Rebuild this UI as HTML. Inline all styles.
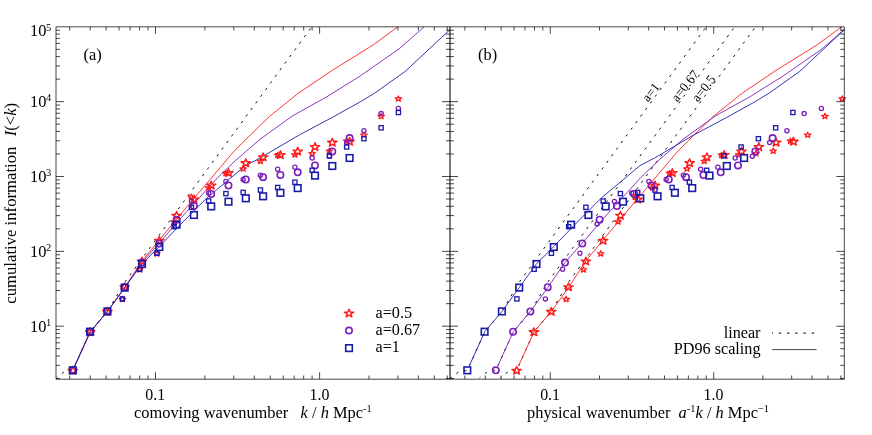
<!DOCTYPE html>
<html><head><meta charset="utf-8"><title>chart</title><style>html,body{margin:0;padding:0;background:#fff}svg{display:block}</style></head><body>
<svg width="872" height="435" viewBox="0 0 872 435" font-family="'Liberation Serif', serif" font-size="16.4" fill="#000">
<rect width="100%" height="100%" fill="#fff"/>
<defs><filter id="g" filterUnits="userSpaceOnUse" x="0" y="0" width="872" height="435"><feOffset dx="0" dy="0"/></filter><clipPath id="ca"><rect x="56.00" y="26.80" width="394.00" height="352.40"/></clipPath><clipPath id="cb"><rect x="450.00" y="26.80" width="394.30" height="352.40"/></clipPath></defs>
<g clip-path="url(#ca)">
<polyline points="56.50,377.80 63.30,372.50 72.80,370.30 90.30,331.70 107.50,311.40 125.60,281.00 311.70,26.80" fill="none" stroke="#111" stroke-width="1.0" stroke-dasharray="2.5 5.7" stroke-dashoffset="1.4"/>
<polyline points="74.70,366.10 90.30,331.70 107.50,311.40 125.00,287.20 141.90,261.00 159.30,240.00 179.90,215.10 211.30,178.00 233.30,152.00 250.30,135.00 269.30,116.60 297.90,93.50 332.30,70.30 360.00,53.10 373.60,44.70 397.80,26.80" fill="none" stroke="#ff1a1a" stroke-width="0.88"/>
<polyline points="74.70,366.10 90.30,331.70 107.50,311.40 125.00,287.20 141.90,262.50 159.30,243.00 179.90,219.10 217.30,178.00 236.00,160.00 260.00,139.30 292.60,115.80 327.00,96.70 360.00,76.10 399.30,48.70 424.20,26.80" fill="none" stroke="#7a1fb8" stroke-width="0.88"/>
<polyline points="74.70,366.10 90.30,331.70 107.50,311.40 125.00,287.20 141.90,264.00 159.30,246.50 181.90,223.00 206.80,198.00 227.50,180.70 245.20,165.80 260.00,158.00 299.20,135.00 332.30,117.40 360.00,102.00 374.60,93.20 405.20,71.40 449.70,29.90 452.90,26.80" fill="none" stroke="#1a1aa8" stroke-width="0.88"/>
</g><g>
<path d="M72.80 366.48L73.96 369.33L77.47 369.40L74.67 371.22L75.69 374.11L72.80 372.39L69.91 374.11L70.93 371.22L68.13 369.40L71.64 369.33Z" fill="none" stroke="#ff1a1a" stroke-width="1.45" stroke-linejoin="round"/>
<path d="M90.10 327.88L91.26 330.73L94.77 330.80L91.97 332.62L92.99 335.51L90.10 333.79L87.21 335.51L88.23 332.62L85.43 330.80L88.94 330.73Z" fill="none" stroke="#ff1a1a" stroke-width="1.45" stroke-linejoin="round"/>
<path d="M107.40 307.58L108.56 310.43L112.07 310.50L109.27 312.32L110.29 315.21L107.40 313.49L104.51 315.21L105.53 312.32L102.73 310.50L106.24 310.43Z" fill="none" stroke="#ff1a1a" stroke-width="1.45" stroke-linejoin="round"/>
<path d="M124.70 282.98L125.86 285.83L129.37 285.90L126.57 287.72L127.59 290.61L124.70 288.89L121.81 290.61L122.83 287.72L120.03 285.90L123.54 285.83Z" fill="none" stroke="#ff1a1a" stroke-width="1.45" stroke-linejoin="round"/>
<path d="M142.00 257.18L143.16 260.03L146.67 260.10L143.87 261.92L144.89 264.81L142.00 263.09L139.11 264.81L140.13 261.92L137.33 260.10L140.84 260.03Z" fill="none" stroke="#ff1a1a" stroke-width="1.45" stroke-linejoin="round"/>
<path d="M159.30 236.48L160.46 239.33L163.97 239.40L161.17 241.22L162.19 244.11L159.30 242.39L156.41 244.11L157.43 241.22L154.63 239.40L158.14 239.33Z" fill="none" stroke="#ff1a1a" stroke-width="1.45" stroke-linejoin="round"/>
<path d="M176.60 211.48L177.76 214.33L181.27 214.40L178.47 216.22L179.49 219.11L176.60 217.39L173.71 219.11L174.73 216.22L171.93 214.40L175.44 214.33Z" fill="none" stroke="#ff1a1a" stroke-width="1.45" stroke-linejoin="round"/>
<path d="M193.90 195.18L195.06 198.03L198.57 198.10L195.77 199.92L196.79 202.81L193.90 201.09L191.01 202.81L192.03 199.92L189.23 198.10L192.74 198.03Z" fill="none" stroke="#ff1a1a" stroke-width="1.45" stroke-linejoin="round"/>
<path d="M211.20 181.18L212.36 184.03L215.87 184.10L213.07 185.92L214.09 188.81L211.20 187.09L208.31 188.81L209.33 185.92L206.53 184.10L210.04 184.03Z" fill="none" stroke="#ff1a1a" stroke-width="1.45" stroke-linejoin="round"/>
<path d="M228.50 168.78L229.66 171.63L233.17 171.70L230.37 173.52L231.39 176.41L228.50 174.69L225.61 176.41L226.63 173.52L223.83 171.70L227.34 171.63Z" fill="none" stroke="#ff1a1a" stroke-width="1.45" stroke-linejoin="round"/>
<path d="M245.80 158.88L246.96 161.73L250.47 161.80L247.67 163.62L248.69 166.51L245.80 164.79L242.91 166.51L243.93 163.62L241.13 161.80L244.64 161.73Z" fill="none" stroke="#ff1a1a" stroke-width="1.45" stroke-linejoin="round"/>
<path d="M263.10 152.98L264.26 155.83L267.77 155.90L264.97 157.72L265.99 160.61L263.10 158.89L260.21 160.61L261.23 157.72L258.43 155.90L261.94 155.83Z" fill="none" stroke="#ff1a1a" stroke-width="1.45" stroke-linejoin="round"/>
<path d="M280.40 150.78L281.56 153.63L285.07 153.70L282.27 155.52L283.29 158.41L280.40 156.69L277.51 158.41L278.53 155.52L275.73 153.70L279.24 153.63Z" fill="none" stroke="#ff1a1a" stroke-width="1.45" stroke-linejoin="round"/>
<path d="M297.70 147.28L298.86 150.13L302.37 150.20L299.57 152.02L300.59 154.91L297.70 153.19L294.81 154.91L295.83 152.02L293.03 150.20L296.54 150.13Z" fill="none" stroke="#ff1a1a" stroke-width="1.45" stroke-linejoin="round"/>
<path d="M315.00 142.78L316.16 145.63L319.67 145.70L316.87 147.52L317.89 150.41L315.00 148.69L312.11 150.41L313.13 147.52L310.33 145.70L313.84 145.63Z" fill="none" stroke="#ff1a1a" stroke-width="1.45" stroke-linejoin="round"/>
<path d="M332.30 138.38L333.46 141.23L336.97 141.30L334.17 143.12L335.19 146.01L332.30 144.29L329.41 146.01L330.43 143.12L327.63 141.30L331.14 141.23Z" fill="none" stroke="#ff1a1a" stroke-width="1.45" stroke-linejoin="round"/>
<path d="M349.60 137.38L350.76 140.23L354.27 140.30L351.47 142.12L352.49 145.01L349.60 143.29L346.71 145.01L347.73 142.12L344.93 140.30L348.44 140.23Z" fill="none" stroke="#ff1a1a" stroke-width="1.45" stroke-linejoin="round"/>
<path d="M122.40 296.34L123.21 298.34L125.68 298.39L123.71 299.67L124.43 301.69L122.40 300.48L120.37 301.69L121.09 299.67L119.12 298.39L121.59 298.34Z" fill="none" stroke="#ff1a1a" stroke-width="1.25" stroke-linejoin="round"/>
<path d="M139.65 266.74L140.46 268.74L142.93 268.79L140.96 270.07L141.68 272.09L139.65 270.88L137.62 272.09L138.34 270.07L136.37 268.79L138.84 268.74Z" fill="none" stroke="#ff1a1a" stroke-width="1.25" stroke-linejoin="round"/>
<path d="M156.90 250.74L157.71 252.74L160.18 252.79L158.21 254.07L158.93 256.09L156.90 254.88L154.87 256.09L155.59 254.07L153.62 252.79L156.09 252.74Z" fill="none" stroke="#ff1a1a" stroke-width="1.25" stroke-linejoin="round"/>
<path d="M174.15 218.84L174.96 220.84L177.43 220.89L175.46 222.17L176.18 224.19L174.15 222.98L172.12 224.19L172.84 222.17L170.87 220.89L173.34 220.84Z" fill="none" stroke="#ff1a1a" stroke-width="1.25" stroke-linejoin="round"/>
<path d="M191.40 194.04L192.21 196.04L194.68 196.09L192.71 197.37L193.43 199.39L191.40 198.18L189.37 199.39L190.09 197.37L188.12 196.09L190.59 196.04Z" fill="none" stroke="#ff1a1a" stroke-width="1.25" stroke-linejoin="round"/>
<path d="M208.65 184.94L209.46 186.94L211.93 186.99L209.96 188.27L210.68 190.29L208.65 189.08L206.62 190.29L207.34 188.27L205.37 186.99L207.84 186.94Z" fill="none" stroke="#ff1a1a" stroke-width="1.25" stroke-linejoin="round"/>
<path d="M225.90 170.44L226.71 172.44L229.18 172.49L227.21 173.77L227.93 175.79L225.90 174.58L223.87 175.79L224.59 173.77L222.62 172.49L225.09 172.44Z" fill="none" stroke="#ff1a1a" stroke-width="1.25" stroke-linejoin="round"/>
<path d="M243.15 165.94L243.96 167.94L246.43 167.99L244.46 169.27L245.18 171.29L243.15 170.08L241.12 171.29L241.84 169.27L239.87 167.99L242.34 167.94Z" fill="none" stroke="#ff1a1a" stroke-width="1.25" stroke-linejoin="round"/>
<path d="M260.40 158.24L261.21 160.24L263.68 160.29L261.71 161.57L262.43 163.59L260.40 162.38L258.37 163.59L259.09 161.57L257.12 160.29L259.59 160.24Z" fill="none" stroke="#ff1a1a" stroke-width="1.25" stroke-linejoin="round"/>
<path d="M277.65 152.24L278.46 154.24L280.93 154.29L278.96 155.57L279.68 157.59L277.65 156.38L275.62 157.59L276.34 155.57L274.37 154.29L276.84 154.24Z" fill="none" stroke="#ff1a1a" stroke-width="1.25" stroke-linejoin="round"/>
<path d="M294.90 151.94L295.71 153.94L298.18 153.99L296.21 155.27L296.93 157.29L294.90 156.08L292.87 157.29L293.59 155.27L291.62 153.99L294.09 153.94Z" fill="none" stroke="#ff1a1a" stroke-width="1.25" stroke-linejoin="round"/>
<path d="M312.15 150.54L312.96 152.54L315.43 152.59L313.46 153.87L314.18 155.89L312.15 154.68L310.12 155.89L310.84 153.87L308.87 152.59L311.34 152.54Z" fill="none" stroke="#ff1a1a" stroke-width="1.25" stroke-linejoin="round"/>
<path d="M329.40 148.04L330.21 150.04L332.68 150.09L330.71 151.37L331.43 153.39L329.40 152.18L327.37 153.39L328.09 151.37L326.12 150.09L328.59 150.04Z" fill="none" stroke="#ff1a1a" stroke-width="1.25" stroke-linejoin="round"/>
<path d="M346.65 138.04L347.46 140.04L349.93 140.09L347.96 141.37L348.68 143.39L346.65 142.18L344.62 143.39L345.34 141.37L343.37 140.09L345.84 140.04Z" fill="none" stroke="#ff1a1a" stroke-width="1.25" stroke-linejoin="round"/>
<path d="M363.90 132.14L364.71 134.14L367.18 134.19L365.21 135.47L365.93 137.49L363.90 136.28L361.87 137.49L362.59 135.47L360.62 134.19L363.09 134.14Z" fill="none" stroke="#ff1a1a" stroke-width="1.25" stroke-linejoin="round"/>
<path d="M381.15 113.34L381.96 115.34L384.43 115.39L382.46 116.67L383.18 118.69L381.15 117.48L379.12 118.69L379.84 116.67L377.87 115.39L380.34 115.34Z" fill="none" stroke="#ff1a1a" stroke-width="1.25" stroke-linejoin="round"/>
<path d="M398.40 95.94L399.21 97.94L401.68 97.99L399.71 99.27L400.43 101.29L398.40 100.08L396.37 101.29L397.09 99.27L395.12 97.99L397.59 97.94Z" fill="none" stroke="#ff1a1a" stroke-width="1.25" stroke-linejoin="round"/>
<circle cx="72.80" cy="370.30" r="3.20" fill="none" stroke="#7a1fb8" stroke-width="1.60"/>
<circle cx="90.10" cy="331.70" r="3.20" fill="none" stroke="#7a1fb8" stroke-width="1.60"/>
<circle cx="107.40" cy="311.40" r="3.20" fill="none" stroke="#7a1fb8" stroke-width="1.60"/>
<circle cx="124.70" cy="287.20" r="3.20" fill="none" stroke="#7a1fb8" stroke-width="1.60"/>
<circle cx="142.00" cy="262.50" r="3.20" fill="none" stroke="#7a1fb8" stroke-width="1.60"/>
<circle cx="159.30" cy="243.50" r="3.20" fill="none" stroke="#7a1fb8" stroke-width="1.60"/>
<circle cx="176.60" cy="219.70" r="3.20" fill="none" stroke="#7a1fb8" stroke-width="1.60"/>
<circle cx="193.90" cy="206.00" r="3.20" fill="none" stroke="#7a1fb8" stroke-width="1.60"/>
<circle cx="211.20" cy="194.00" r="3.20" fill="none" stroke="#7a1fb8" stroke-width="1.60"/>
<circle cx="228.50" cy="185.50" r="3.20" fill="none" stroke="#7a1fb8" stroke-width="1.60"/>
<circle cx="245.80" cy="179.50" r="3.20" fill="none" stroke="#7a1fb8" stroke-width="1.60"/>
<circle cx="263.10" cy="177.20" r="3.20" fill="none" stroke="#7a1fb8" stroke-width="1.60"/>
<circle cx="280.40" cy="175.00" r="3.20" fill="none" stroke="#7a1fb8" stroke-width="1.60"/>
<circle cx="297.70" cy="172.30" r="3.20" fill="none" stroke="#7a1fb8" stroke-width="1.60"/>
<circle cx="315.00" cy="165.40" r="3.20" fill="none" stroke="#7a1fb8" stroke-width="1.60"/>
<circle cx="332.30" cy="151.50" r="3.20" fill="none" stroke="#7a1fb8" stroke-width="1.60"/>
<circle cx="349.60" cy="138.10" r="3.20" fill="none" stroke="#7a1fb8" stroke-width="1.60"/>
<circle cx="122.40" cy="298.90" r="2.10" fill="none" stroke="#7a1fb8" stroke-width="1.30"/>
<circle cx="139.65" cy="269.30" r="2.10" fill="none" stroke="#7a1fb8" stroke-width="1.30"/>
<circle cx="156.90" cy="253.30" r="2.10" fill="none" stroke="#7a1fb8" stroke-width="1.30"/>
<circle cx="174.15" cy="223.90" r="2.10" fill="none" stroke="#7a1fb8" stroke-width="1.30"/>
<circle cx="191.40" cy="201.50" r="2.10" fill="none" stroke="#7a1fb8" stroke-width="1.30"/>
<circle cx="208.65" cy="193.00" r="2.10" fill="none" stroke="#7a1fb8" stroke-width="1.30"/>
<circle cx="225.90" cy="181.50" r="2.10" fill="none" stroke="#7a1fb8" stroke-width="1.30"/>
<circle cx="243.15" cy="179.50" r="2.10" fill="none" stroke="#7a1fb8" stroke-width="1.30"/>
<circle cx="260.40" cy="175.20" r="2.10" fill="none" stroke="#7a1fb8" stroke-width="1.30"/>
<circle cx="277.65" cy="169.30" r="2.10" fill="none" stroke="#7a1fb8" stroke-width="1.30"/>
<circle cx="294.90" cy="167.30" r="2.10" fill="none" stroke="#7a1fb8" stroke-width="1.30"/>
<circle cx="312.15" cy="158.00" r="2.10" fill="none" stroke="#7a1fb8" stroke-width="1.30"/>
<circle cx="329.40" cy="156.20" r="2.10" fill="none" stroke="#7a1fb8" stroke-width="1.30"/>
<circle cx="346.65" cy="142.60" r="2.10" fill="none" stroke="#7a1fb8" stroke-width="1.30"/>
<circle cx="363.90" cy="130.80" r="2.10" fill="none" stroke="#7a1fb8" stroke-width="1.30"/>
<circle cx="381.15" cy="113.60" r="2.10" fill="none" stroke="#7a1fb8" stroke-width="1.30"/>
<circle cx="398.40" cy="108.50" r="2.10" fill="none" stroke="#7a1fb8" stroke-width="1.30"/>
<rect x="69.50" y="367.00" width="6.60" height="6.60" fill="none" stroke="#1a1aa8" stroke-width="1.60"/>
<rect x="86.80" y="328.40" width="6.60" height="6.60" fill="none" stroke="#1a1aa8" stroke-width="1.60"/>
<rect x="104.10" y="308.10" width="6.60" height="6.60" fill="none" stroke="#1a1aa8" stroke-width="1.60"/>
<rect x="121.40" y="284.30" width="6.60" height="6.60" fill="none" stroke="#1a1aa8" stroke-width="1.60"/>
<rect x="138.70" y="260.70" width="6.60" height="6.60" fill="none" stroke="#1a1aa8" stroke-width="1.60"/>
<rect x="156.00" y="243.70" width="6.60" height="6.60" fill="none" stroke="#1a1aa8" stroke-width="1.60"/>
<rect x="173.30" y="221.40" width="6.60" height="6.60" fill="none" stroke="#1a1aa8" stroke-width="1.60"/>
<rect x="190.60" y="211.70" width="6.60" height="6.60" fill="none" stroke="#1a1aa8" stroke-width="1.60"/>
<rect x="207.90" y="203.10" width="6.60" height="6.60" fill="none" stroke="#1a1aa8" stroke-width="1.60"/>
<rect x="225.20" y="198.40" width="6.60" height="6.60" fill="none" stroke="#1a1aa8" stroke-width="1.60"/>
<rect x="242.50" y="195.00" width="6.60" height="6.60" fill="none" stroke="#1a1aa8" stroke-width="1.60"/>
<rect x="259.80" y="193.00" width="6.60" height="6.60" fill="none" stroke="#1a1aa8" stroke-width="1.60"/>
<rect x="277.10" y="189.50" width="6.60" height="6.60" fill="none" stroke="#1a1aa8" stroke-width="1.60"/>
<rect x="294.40" y="184.80" width="6.60" height="6.60" fill="none" stroke="#1a1aa8" stroke-width="1.60"/>
<rect x="311.70" y="172.30" width="6.60" height="6.60" fill="none" stroke="#1a1aa8" stroke-width="1.60"/>
<rect x="329.00" y="162.70" width="6.60" height="6.60" fill="none" stroke="#1a1aa8" stroke-width="1.60"/>
<rect x="346.30" y="154.70" width="6.60" height="6.60" fill="none" stroke="#1a1aa8" stroke-width="1.60"/>
<rect x="120.30" y="296.80" width="4.20" height="4.20" fill="none" stroke="#1a1aa8" stroke-width="1.30"/>
<rect x="137.55" y="267.20" width="4.20" height="4.20" fill="none" stroke="#1a1aa8" stroke-width="1.30"/>
<rect x="154.80" y="251.20" width="4.20" height="4.20" fill="none" stroke="#1a1aa8" stroke-width="1.30"/>
<rect x="172.05" y="224.60" width="4.20" height="4.20" fill="none" stroke="#1a1aa8" stroke-width="1.30"/>
<rect x="189.30" y="205.20" width="4.20" height="4.20" fill="none" stroke="#1a1aa8" stroke-width="1.30"/>
<rect x="206.55" y="198.90" width="4.20" height="4.20" fill="none" stroke="#1a1aa8" stroke-width="1.30"/>
<rect x="223.80" y="191.50" width="4.20" height="4.20" fill="none" stroke="#1a1aa8" stroke-width="1.30"/>
<rect x="241.05" y="190.30" width="4.20" height="4.20" fill="none" stroke="#1a1aa8" stroke-width="1.30"/>
<rect x="258.30" y="187.90" width="4.20" height="4.20" fill="none" stroke="#1a1aa8" stroke-width="1.30"/>
<rect x="275.55" y="185.40" width="4.20" height="4.20" fill="none" stroke="#1a1aa8" stroke-width="1.30"/>
<rect x="292.80" y="180.10" width="4.20" height="4.20" fill="none" stroke="#1a1aa8" stroke-width="1.30"/>
<rect x="310.05" y="168.20" width="4.20" height="4.20" fill="none" stroke="#1a1aa8" stroke-width="1.30"/>
<rect x="327.30" y="153.80" width="4.20" height="4.20" fill="none" stroke="#1a1aa8" stroke-width="1.30"/>
<rect x="344.55" y="144.90" width="4.20" height="4.20" fill="none" stroke="#1a1aa8" stroke-width="1.30"/>
<rect x="361.80" y="136.60" width="4.20" height="4.20" fill="none" stroke="#1a1aa8" stroke-width="1.30"/>
<rect x="379.05" y="125.70" width="4.20" height="4.20" fill="none" stroke="#1a1aa8" stroke-width="1.30"/>
<rect x="396.30" y="110.40" width="4.20" height="4.20" fill="none" stroke="#1a1aa8" stroke-width="1.30"/>
</g>
<g clip-path="url(#cb)">
<polyline points="451.00,377.80 457.80,372.50 467.30,370.30 484.80,331.70 502.00,311.40 520.10,281.00 706.20,26.80" fill="none" stroke="#111" stroke-width="1.0" stroke-dasharray="2.5 5.7" stroke-dashoffset="1.4"/>
<polyline points="479.50,377.80 486.30,372.50 495.80,370.30 513.30,331.70 530.50,311.40 548.60,281.00 734.70,26.80" fill="none" stroke="#111" stroke-width="1.0" stroke-dasharray="2.5 5.7" stroke-dashoffset="1.4"/>
<polyline points="500.30,377.80 507.10,372.50 516.60,370.30 534.10,331.70 551.30,311.40 569.40,281.00 755.50,26.80" fill="none" stroke="#111" stroke-width="1.0" stroke-dasharray="2.5 5.7" stroke-dashoffset="1.4"/>
<polyline points="518.50,366.10 534.10,331.70 551.30,311.40 568.80,287.20 585.70,261.00 603.10,240.00 623.70,215.10 655.10,178.00 677.10,152.00 694.10,135.00 713.10,116.60 741.70,93.50 776.10,70.30 803.80,53.10 817.40,44.70 841.60,26.80" fill="none" stroke="#ff1a1a" stroke-width="0.88"/>
<polyline points="497.70,366.10 513.30,331.70 530.50,311.40 548.00,287.20 564.90,262.50 582.30,243.00 602.90,219.10 640.30,178.00 659.00,160.00 683.00,139.30 715.60,115.80 750.00,96.70 783.00,76.10 822.30,48.70 847.20,26.80" fill="none" stroke="#7a1fb8" stroke-width="0.88"/>
<polyline points="469.20,366.10 484.80,331.70 502.00,311.40 519.50,287.20 536.40,264.00 553.80,246.50 576.40,223.00 601.30,198.00 622.00,180.70 639.70,165.80 654.50,158.00 693.70,135.00 726.80,117.40 754.50,102.00 769.10,93.20 799.70,71.40 844.20,29.90 847.40,26.80" fill="none" stroke="#1a1aa8" stroke-width="0.88"/>
</g><g>
<path d="M516.60 366.48L517.76 369.33L521.27 369.40L518.47 371.22L519.49 374.11L516.60 372.39L513.71 374.11L514.73 371.22L511.93 369.40L515.44 369.33Z" fill="none" stroke="#ff1a1a" stroke-width="1.45" stroke-linejoin="round"/>
<path d="M533.90 327.88L535.06 330.73L538.57 330.80L535.77 332.62L536.79 335.51L533.90 333.79L531.01 335.51L532.03 332.62L529.23 330.80L532.74 330.73Z" fill="none" stroke="#ff1a1a" stroke-width="1.45" stroke-linejoin="round"/>
<path d="M551.20 307.58L552.36 310.43L555.87 310.50L553.07 312.32L554.09 315.21L551.20 313.49L548.31 315.21L549.33 312.32L546.53 310.50L550.04 310.43Z" fill="none" stroke="#ff1a1a" stroke-width="1.45" stroke-linejoin="round"/>
<path d="M568.50 282.98L569.66 285.83L573.17 285.90L570.37 287.72L571.39 290.61L568.50 288.89L565.61 290.61L566.63 287.72L563.83 285.90L567.34 285.83Z" fill="none" stroke="#ff1a1a" stroke-width="1.45" stroke-linejoin="round"/>
<path d="M585.80 257.18L586.96 260.03L590.47 260.10L587.67 261.92L588.69 264.81L585.80 263.09L582.91 264.81L583.93 261.92L581.13 260.10L584.64 260.03Z" fill="none" stroke="#ff1a1a" stroke-width="1.45" stroke-linejoin="round"/>
<path d="M603.10 236.48L604.26 239.33L607.77 239.40L604.97 241.22L605.99 244.11L603.10 242.39L600.21 244.11L601.23 241.22L598.43 239.40L601.94 239.33Z" fill="none" stroke="#ff1a1a" stroke-width="1.45" stroke-linejoin="round"/>
<path d="M620.40 211.48L621.56 214.33L625.07 214.40L622.27 216.22L623.29 219.11L620.40 217.39L617.51 219.11L618.53 216.22L615.73 214.40L619.24 214.33Z" fill="none" stroke="#ff1a1a" stroke-width="1.45" stroke-linejoin="round"/>
<path d="M637.70 195.18L638.86 198.03L642.37 198.10L639.57 199.92L640.59 202.81L637.70 201.09L634.81 202.81L635.83 199.92L633.03 198.10L636.54 198.03Z" fill="none" stroke="#ff1a1a" stroke-width="1.45" stroke-linejoin="round"/>
<path d="M655.00 181.18L656.16 184.03L659.67 184.10L656.87 185.92L657.89 188.81L655.00 187.09L652.11 188.81L653.13 185.92L650.33 184.10L653.84 184.03Z" fill="none" stroke="#ff1a1a" stroke-width="1.45" stroke-linejoin="round"/>
<path d="M672.30 168.78L673.46 171.63L676.97 171.70L674.17 173.52L675.19 176.41L672.30 174.69L669.41 176.41L670.43 173.52L667.63 171.70L671.14 171.63Z" fill="none" stroke="#ff1a1a" stroke-width="1.45" stroke-linejoin="round"/>
<path d="M689.60 158.88L690.76 161.73L694.27 161.80L691.47 163.62L692.49 166.51L689.60 164.79L686.71 166.51L687.73 163.62L684.93 161.80L688.44 161.73Z" fill="none" stroke="#ff1a1a" stroke-width="1.45" stroke-linejoin="round"/>
<path d="M706.90 152.98L708.06 155.83L711.57 155.90L708.77 157.72L709.79 160.61L706.90 158.89L704.01 160.61L705.03 157.72L702.23 155.90L705.74 155.83Z" fill="none" stroke="#ff1a1a" stroke-width="1.45" stroke-linejoin="round"/>
<path d="M724.20 150.78L725.36 153.63L728.87 153.70L726.07 155.52L727.09 158.41L724.20 156.69L721.31 158.41L722.33 155.52L719.53 153.70L723.04 153.63Z" fill="none" stroke="#ff1a1a" stroke-width="1.45" stroke-linejoin="round"/>
<path d="M741.50 147.28L742.66 150.13L746.17 150.20L743.37 152.02L744.39 154.91L741.50 153.19L738.61 154.91L739.63 152.02L736.83 150.20L740.34 150.13Z" fill="none" stroke="#ff1a1a" stroke-width="1.45" stroke-linejoin="round"/>
<path d="M758.80 142.78L759.96 145.63L763.47 145.70L760.67 147.52L761.69 150.41L758.80 148.69L755.91 150.41L756.93 147.52L754.13 145.70L757.64 145.63Z" fill="none" stroke="#ff1a1a" stroke-width="1.45" stroke-linejoin="round"/>
<path d="M776.10 138.38L777.26 141.23L780.77 141.30L777.97 143.12L778.99 146.01L776.10 144.29L773.21 146.01L774.23 143.12L771.43 141.30L774.94 141.23Z" fill="none" stroke="#ff1a1a" stroke-width="1.45" stroke-linejoin="round"/>
<path d="M793.40 137.38L794.56 140.23L798.07 140.30L795.27 142.12L796.29 145.01L793.40 143.29L790.51 145.01L791.53 142.12L788.73 140.30L792.24 140.23Z" fill="none" stroke="#ff1a1a" stroke-width="1.45" stroke-linejoin="round"/>
<path d="M566.20 296.34L567.01 298.34L569.48 298.39L567.51 299.67L568.23 301.69L566.20 300.48L564.17 301.69L564.89 299.67L562.92 298.39L565.39 298.34Z" fill="none" stroke="#ff1a1a" stroke-width="1.25" stroke-linejoin="round"/>
<path d="M583.45 266.74L584.26 268.74L586.73 268.79L584.76 270.07L585.48 272.09L583.45 270.88L581.42 272.09L582.14 270.07L580.17 268.79L582.64 268.74Z" fill="none" stroke="#ff1a1a" stroke-width="1.25" stroke-linejoin="round"/>
<path d="M600.70 250.74L601.51 252.74L603.98 252.79L602.01 254.07L602.73 256.09L600.70 254.88L598.67 256.09L599.39 254.07L597.42 252.79L599.89 252.74Z" fill="none" stroke="#ff1a1a" stroke-width="1.25" stroke-linejoin="round"/>
<path d="M617.95 218.84L618.76 220.84L621.23 220.89L619.26 222.17L619.98 224.19L617.95 222.98L615.92 224.19L616.64 222.17L614.67 220.89L617.14 220.84Z" fill="none" stroke="#ff1a1a" stroke-width="1.25" stroke-linejoin="round"/>
<path d="M635.20 194.04L636.01 196.04L638.48 196.09L636.51 197.37L637.23 199.39L635.20 198.18L633.17 199.39L633.89 197.37L631.92 196.09L634.39 196.04Z" fill="none" stroke="#ff1a1a" stroke-width="1.25" stroke-linejoin="round"/>
<path d="M652.45 184.94L653.26 186.94L655.73 186.99L653.76 188.27L654.48 190.29L652.45 189.08L650.42 190.29L651.14 188.27L649.17 186.99L651.64 186.94Z" fill="none" stroke="#ff1a1a" stroke-width="1.25" stroke-linejoin="round"/>
<path d="M669.70 170.44L670.51 172.44L672.98 172.49L671.01 173.77L671.73 175.79L669.70 174.58L667.67 175.79L668.39 173.77L666.42 172.49L668.89 172.44Z" fill="none" stroke="#ff1a1a" stroke-width="1.25" stroke-linejoin="round"/>
<path d="M686.95 165.94L687.76 167.94L690.23 167.99L688.26 169.27L688.98 171.29L686.95 170.08L684.92 171.29L685.64 169.27L683.67 167.99L686.14 167.94Z" fill="none" stroke="#ff1a1a" stroke-width="1.25" stroke-linejoin="round"/>
<path d="M704.20 158.24L705.01 160.24L707.48 160.29L705.51 161.57L706.23 163.59L704.20 162.38L702.17 163.59L702.89 161.57L700.92 160.29L703.39 160.24Z" fill="none" stroke="#ff1a1a" stroke-width="1.25" stroke-linejoin="round"/>
<path d="M721.45 152.24L722.26 154.24L724.73 154.29L722.76 155.57L723.48 157.59L721.45 156.38L719.42 157.59L720.14 155.57L718.17 154.29L720.64 154.24Z" fill="none" stroke="#ff1a1a" stroke-width="1.25" stroke-linejoin="round"/>
<path d="M738.70 151.94L739.51 153.94L741.98 153.99L740.01 155.27L740.73 157.29L738.70 156.08L736.67 157.29L737.39 155.27L735.42 153.99L737.89 153.94Z" fill="none" stroke="#ff1a1a" stroke-width="1.25" stroke-linejoin="round"/>
<path d="M755.95 150.54L756.76 152.54L759.23 152.59L757.26 153.87L757.98 155.89L755.95 154.68L753.92 155.89L754.64 153.87L752.67 152.59L755.14 152.54Z" fill="none" stroke="#ff1a1a" stroke-width="1.25" stroke-linejoin="round"/>
<path d="M773.20 148.04L774.01 150.04L776.48 150.09L774.51 151.37L775.23 153.39L773.20 152.18L771.17 153.39L771.89 151.37L769.92 150.09L772.39 150.04Z" fill="none" stroke="#ff1a1a" stroke-width="1.25" stroke-linejoin="round"/>
<path d="M790.45 138.04L791.26 140.04L793.73 140.09L791.76 141.37L792.48 143.39L790.45 142.18L788.42 143.39L789.14 141.37L787.17 140.09L789.64 140.04Z" fill="none" stroke="#ff1a1a" stroke-width="1.25" stroke-linejoin="round"/>
<path d="M807.70 132.14L808.51 134.14L810.98 134.19L809.01 135.47L809.73 137.49L807.70 136.28L805.67 137.49L806.39 135.47L804.42 134.19L806.89 134.14Z" fill="none" stroke="#ff1a1a" stroke-width="1.25" stroke-linejoin="round"/>
<path d="M824.95 113.34L825.76 115.34L828.23 115.39L826.26 116.67L826.98 118.69L824.95 117.48L822.92 118.69L823.64 116.67L821.67 115.39L824.14 115.34Z" fill="none" stroke="#ff1a1a" stroke-width="1.25" stroke-linejoin="round"/>
<path d="M842.20 95.94L843.01 97.94L845.48 97.99L843.51 99.27L844.23 101.29L842.20 100.08L840.17 101.29L840.89 99.27L838.92 97.99L841.39 97.94Z" fill="none" stroke="#ff1a1a" stroke-width="1.25" stroke-linejoin="round"/>
<circle cx="495.80" cy="370.30" r="3.20" fill="none" stroke="#7a1fb8" stroke-width="1.60"/>
<circle cx="513.10" cy="331.70" r="3.20" fill="none" stroke="#7a1fb8" stroke-width="1.60"/>
<circle cx="530.40" cy="311.40" r="3.20" fill="none" stroke="#7a1fb8" stroke-width="1.60"/>
<circle cx="547.70" cy="287.20" r="3.20" fill="none" stroke="#7a1fb8" stroke-width="1.60"/>
<circle cx="565.00" cy="262.50" r="3.20" fill="none" stroke="#7a1fb8" stroke-width="1.60"/>
<circle cx="582.30" cy="243.50" r="3.20" fill="none" stroke="#7a1fb8" stroke-width="1.60"/>
<circle cx="599.60" cy="219.70" r="3.20" fill="none" stroke="#7a1fb8" stroke-width="1.60"/>
<circle cx="616.90" cy="206.00" r="3.20" fill="none" stroke="#7a1fb8" stroke-width="1.60"/>
<circle cx="634.20" cy="194.00" r="3.20" fill="none" stroke="#7a1fb8" stroke-width="1.60"/>
<circle cx="651.50" cy="185.50" r="3.20" fill="none" stroke="#7a1fb8" stroke-width="1.60"/>
<circle cx="668.80" cy="179.50" r="3.20" fill="none" stroke="#7a1fb8" stroke-width="1.60"/>
<circle cx="686.10" cy="177.20" r="3.20" fill="none" stroke="#7a1fb8" stroke-width="1.60"/>
<circle cx="703.40" cy="175.00" r="3.20" fill="none" stroke="#7a1fb8" stroke-width="1.60"/>
<circle cx="720.70" cy="172.30" r="3.20" fill="none" stroke="#7a1fb8" stroke-width="1.60"/>
<circle cx="738.00" cy="165.40" r="3.20" fill="none" stroke="#7a1fb8" stroke-width="1.60"/>
<circle cx="755.30" cy="151.50" r="3.20" fill="none" stroke="#7a1fb8" stroke-width="1.60"/>
<circle cx="772.60" cy="138.10" r="3.20" fill="none" stroke="#7a1fb8" stroke-width="1.60"/>
<circle cx="545.40" cy="298.90" r="2.10" fill="none" stroke="#7a1fb8" stroke-width="1.30"/>
<circle cx="562.65" cy="269.30" r="2.10" fill="none" stroke="#7a1fb8" stroke-width="1.30"/>
<circle cx="579.90" cy="253.30" r="2.10" fill="none" stroke="#7a1fb8" stroke-width="1.30"/>
<circle cx="597.15" cy="223.90" r="2.10" fill="none" stroke="#7a1fb8" stroke-width="1.30"/>
<circle cx="614.40" cy="201.50" r="2.10" fill="none" stroke="#7a1fb8" stroke-width="1.30"/>
<circle cx="631.65" cy="193.00" r="2.10" fill="none" stroke="#7a1fb8" stroke-width="1.30"/>
<circle cx="648.90" cy="181.50" r="2.10" fill="none" stroke="#7a1fb8" stroke-width="1.30"/>
<circle cx="666.15" cy="179.50" r="2.10" fill="none" stroke="#7a1fb8" stroke-width="1.30"/>
<circle cx="683.40" cy="175.20" r="2.10" fill="none" stroke="#7a1fb8" stroke-width="1.30"/>
<circle cx="700.65" cy="169.30" r="2.10" fill="none" stroke="#7a1fb8" stroke-width="1.30"/>
<circle cx="717.90" cy="167.30" r="2.10" fill="none" stroke="#7a1fb8" stroke-width="1.30"/>
<circle cx="735.15" cy="158.00" r="2.10" fill="none" stroke="#7a1fb8" stroke-width="1.30"/>
<circle cx="752.40" cy="156.20" r="2.10" fill="none" stroke="#7a1fb8" stroke-width="1.30"/>
<circle cx="769.65" cy="142.60" r="2.10" fill="none" stroke="#7a1fb8" stroke-width="1.30"/>
<circle cx="786.90" cy="130.80" r="2.10" fill="none" stroke="#7a1fb8" stroke-width="1.30"/>
<circle cx="804.15" cy="113.60" r="2.10" fill="none" stroke="#7a1fb8" stroke-width="1.30"/>
<circle cx="821.40" cy="108.50" r="2.10" fill="none" stroke="#7a1fb8" stroke-width="1.30"/>
<rect x="464.00" y="367.00" width="6.60" height="6.60" fill="none" stroke="#1a1aa8" stroke-width="1.60"/>
<rect x="481.30" y="328.40" width="6.60" height="6.60" fill="none" stroke="#1a1aa8" stroke-width="1.60"/>
<rect x="498.60" y="308.10" width="6.60" height="6.60" fill="none" stroke="#1a1aa8" stroke-width="1.60"/>
<rect x="515.90" y="284.30" width="6.60" height="6.60" fill="none" stroke="#1a1aa8" stroke-width="1.60"/>
<rect x="533.20" y="260.70" width="6.60" height="6.60" fill="none" stroke="#1a1aa8" stroke-width="1.60"/>
<rect x="550.50" y="243.70" width="6.60" height="6.60" fill="none" stroke="#1a1aa8" stroke-width="1.60"/>
<rect x="567.80" y="221.40" width="6.60" height="6.60" fill="none" stroke="#1a1aa8" stroke-width="1.60"/>
<rect x="585.10" y="211.70" width="6.60" height="6.60" fill="none" stroke="#1a1aa8" stroke-width="1.60"/>
<rect x="602.40" y="203.10" width="6.60" height="6.60" fill="none" stroke="#1a1aa8" stroke-width="1.60"/>
<rect x="619.70" y="198.40" width="6.60" height="6.60" fill="none" stroke="#1a1aa8" stroke-width="1.60"/>
<rect x="637.00" y="195.00" width="6.60" height="6.60" fill="none" stroke="#1a1aa8" stroke-width="1.60"/>
<rect x="654.30" y="193.00" width="6.60" height="6.60" fill="none" stroke="#1a1aa8" stroke-width="1.60"/>
<rect x="671.60" y="189.50" width="6.60" height="6.60" fill="none" stroke="#1a1aa8" stroke-width="1.60"/>
<rect x="688.90" y="184.80" width="6.60" height="6.60" fill="none" stroke="#1a1aa8" stroke-width="1.60"/>
<rect x="706.20" y="172.30" width="6.60" height="6.60" fill="none" stroke="#1a1aa8" stroke-width="1.60"/>
<rect x="723.50" y="162.70" width="6.60" height="6.60" fill="none" stroke="#1a1aa8" stroke-width="1.60"/>
<rect x="740.80" y="154.70" width="6.60" height="6.60" fill="none" stroke="#1a1aa8" stroke-width="1.60"/>
<rect x="514.80" y="296.80" width="4.20" height="4.20" fill="none" stroke="#1a1aa8" stroke-width="1.30"/>
<rect x="532.05" y="267.20" width="4.20" height="4.20" fill="none" stroke="#1a1aa8" stroke-width="1.30"/>
<rect x="549.30" y="251.20" width="4.20" height="4.20" fill="none" stroke="#1a1aa8" stroke-width="1.30"/>
<rect x="566.55" y="224.60" width="4.20" height="4.20" fill="none" stroke="#1a1aa8" stroke-width="1.30"/>
<rect x="583.80" y="205.20" width="4.20" height="4.20" fill="none" stroke="#1a1aa8" stroke-width="1.30"/>
<rect x="601.05" y="198.90" width="4.20" height="4.20" fill="none" stroke="#1a1aa8" stroke-width="1.30"/>
<rect x="618.30" y="191.50" width="4.20" height="4.20" fill="none" stroke="#1a1aa8" stroke-width="1.30"/>
<rect x="635.55" y="190.30" width="4.20" height="4.20" fill="none" stroke="#1a1aa8" stroke-width="1.30"/>
<rect x="652.80" y="187.90" width="4.20" height="4.20" fill="none" stroke="#1a1aa8" stroke-width="1.30"/>
<rect x="670.05" y="185.40" width="4.20" height="4.20" fill="none" stroke="#1a1aa8" stroke-width="1.30"/>
<rect x="687.30" y="180.10" width="4.20" height="4.20" fill="none" stroke="#1a1aa8" stroke-width="1.30"/>
<rect x="704.55" y="168.20" width="4.20" height="4.20" fill="none" stroke="#1a1aa8" stroke-width="1.30"/>
<rect x="721.80" y="153.80" width="4.20" height="4.20" fill="none" stroke="#1a1aa8" stroke-width="1.30"/>
<rect x="739.05" y="144.90" width="4.20" height="4.20" fill="none" stroke="#1a1aa8" stroke-width="1.30"/>
<rect x="756.30" y="136.60" width="4.20" height="4.20" fill="none" stroke="#1a1aa8" stroke-width="1.30"/>
<rect x="773.55" y="125.70" width="4.20" height="4.20" fill="none" stroke="#1a1aa8" stroke-width="1.30"/>
<rect x="790.80" y="110.40" width="4.20" height="4.20" fill="none" stroke="#1a1aa8" stroke-width="1.30"/>
</g>
<path d="M56.00 26.80H844.30V379.20H56.00ZM69.70 379.20v-3.70M69.70 26.80v3.70M90.20 379.20v-3.70M90.20 26.80v3.70M106.10 379.20v-3.70M106.10 26.80v3.70M119.09 379.20v-3.70M119.09 26.80v3.70M130.08 379.20v-3.70M130.08 26.80v3.70M139.60 379.20v-3.70M139.60 26.80v3.70M147.99 379.20v-3.70M147.99 26.80v3.70M155.50 379.20v-7.00M155.50 26.80v7.00M204.90 379.20v-3.70M204.90 26.80v3.70M233.80 379.20v-3.70M233.80 26.80v3.70M254.30 379.20v-3.70M254.30 26.80v3.70M270.20 379.20v-3.70M270.20 26.80v3.70M283.19 379.20v-3.70M283.19 26.80v3.70M294.18 379.20v-3.70M294.18 26.80v3.70M303.70 379.20v-3.70M303.70 26.80v3.70M312.09 379.20v-3.70M312.09 26.80v3.70M319.60 379.20v-7.00M319.60 26.80v7.00M369.00 379.20v-3.70M369.00 26.80v3.70M397.90 379.20v-3.70M397.90 26.80v3.70M418.40 379.20v-3.70M418.40 26.80v3.70M434.30 379.20v-3.70M434.30 26.80v3.70M447.29 379.20v-3.70M447.29 26.80v3.70M464.86 379.20v-3.70M464.86 26.80v3.70M485.28 379.20v-3.70M485.28 26.80v3.70M501.11 379.20v-3.70M501.11 26.80v3.70M514.05 379.20v-3.70M514.05 26.80v3.70M524.99 379.20v-3.70M524.99 26.80v3.70M534.46 379.20v-3.70M534.46 26.80v3.70M542.82 379.20v-3.70M542.82 26.80v3.70M550.30 379.20v-7.00M550.30 26.80v7.00M599.49 379.20v-3.70M599.49 26.80v3.70M628.26 379.20v-3.70M628.26 26.80v3.70M648.68 379.20v-3.70M648.68 26.80v3.70M664.51 379.20v-3.70M664.51 26.80v3.70M677.45 379.20v-3.70M677.45 26.80v3.70M688.39 379.20v-3.70M688.39 26.80v3.70M697.86 379.20v-3.70M697.86 26.80v3.70M706.22 379.20v-3.70M706.22 26.80v3.70M713.70 379.20v-7.00M713.70 26.80v7.00M762.89 379.20v-3.70M762.89 26.80v3.70M791.66 379.20v-3.70M791.66 26.80v3.70M812.08 379.20v-3.70M812.08 26.80v3.70M827.91 379.20v-3.70M827.91 26.80v3.70M840.85 379.20v-3.70M840.85 26.80v3.70M56.00 378.52h4.00M844.30 378.52h-4.00M446.00 378.52h8.00M56.00 365.34h4.00M844.30 365.34h-4.00M446.00 365.34h8.00M56.00 355.99h4.00M844.30 355.99h-4.00M446.00 355.99h8.00M56.00 348.73h4.00M844.30 348.73h-4.00M446.00 348.73h8.00M56.00 342.81h4.00M844.30 342.81h-4.00M446.00 342.81h8.00M56.00 337.79h4.00M844.30 337.79h-4.00M446.00 337.79h8.00M56.00 333.45h4.00M844.30 333.45h-4.00M446.00 333.45h8.00M56.00 329.62h4.00M844.30 329.62h-4.00M446.00 329.62h8.00M56.00 326.20h8.00M844.30 326.20h-8.00M442.00 326.20h16.00M56.00 303.67h4.00M844.30 303.67h-4.00M446.00 303.67h8.00M56.00 290.49h4.00M844.30 290.49h-4.00M446.00 290.49h8.00M56.00 281.14h4.00M844.30 281.14h-4.00M446.00 281.14h8.00M56.00 273.88h4.00M844.30 273.88h-4.00M446.00 273.88h8.00M56.00 267.96h4.00M844.30 267.96h-4.00M446.00 267.96h8.00M56.00 262.94h4.00M844.30 262.94h-4.00M446.00 262.94h8.00M56.00 258.60h4.00M844.30 258.60h-4.00M446.00 258.60h8.00M56.00 254.77h4.00M844.30 254.77h-4.00M446.00 254.77h8.00M56.00 251.35h8.00M844.30 251.35h-8.00M442.00 251.35h16.00M56.00 228.82h4.00M844.30 228.82h-4.00M446.00 228.82h8.00M56.00 215.64h4.00M844.30 215.64h-4.00M446.00 215.64h8.00M56.00 206.29h4.00M844.30 206.29h-4.00M446.00 206.29h8.00M56.00 199.03h4.00M844.30 199.03h-4.00M446.00 199.03h8.00M56.00 193.11h4.00M844.30 193.11h-4.00M446.00 193.11h8.00M56.00 188.09h4.00M844.30 188.09h-4.00M446.00 188.09h8.00M56.00 183.75h4.00M844.30 183.75h-4.00M446.00 183.75h8.00M56.00 179.92h4.00M844.30 179.92h-4.00M446.00 179.92h8.00M56.00 176.50h8.00M844.30 176.50h-8.00M442.00 176.50h16.00M56.00 153.97h4.00M844.30 153.97h-4.00M446.00 153.97h8.00M56.00 140.79h4.00M844.30 140.79h-4.00M446.00 140.79h8.00M56.00 131.44h4.00M844.30 131.44h-4.00M446.00 131.44h8.00M56.00 124.18h4.00M844.30 124.18h-4.00M446.00 124.18h8.00M56.00 118.26h4.00M844.30 118.26h-4.00M446.00 118.26h8.00M56.00 113.24h4.00M844.30 113.24h-4.00M446.00 113.24h8.00M56.00 108.90h4.00M844.30 108.90h-4.00M446.00 108.90h8.00M56.00 105.07h4.00M844.30 105.07h-4.00M446.00 105.07h8.00M56.00 101.65h8.00M844.30 101.65h-8.00M442.00 101.65h16.00M56.00 79.12h4.00M844.30 79.12h-4.00M446.00 79.12h8.00M56.00 65.94h4.00M844.30 65.94h-4.00M446.00 65.94h8.00M56.00 56.59h4.00M844.30 56.59h-4.00M446.00 56.59h8.00M56.00 49.33h4.00M844.30 49.33h-4.00M446.00 49.33h8.00M56.00 43.41h4.00M844.30 43.41h-4.00M446.00 43.41h8.00M56.00 38.39h4.00M844.30 38.39h-4.00M446.00 38.39h8.00M56.00 34.05h4.00M844.30 34.05h-4.00M446.00 34.05h8.00M56.00 30.22h4.00M844.30 30.22h-4.00M446.00 30.22h8.00" fill="none" stroke="#000" stroke-width="0.72"/>
<path d="M450.00 26.80V379.20" fill="none" stroke="#000" stroke-width="1.05"/>
<g filter="url(#g)">
<text x="30.1" y="36.2">10</text><text x="46.1" y="30.6" font-size="10.5">5</text>
<text x="30.1" y="106.9">10</text><text x="46.1" y="101.3" font-size="10.5">4</text>
<text x="30.1" y="181.8">10</text><text x="46.1" y="176.2" font-size="10.5">3</text>
<text x="30.1" y="256.6">10</text><text x="46.1" y="251.0" font-size="10.5">2</text>
<text x="30.1" y="332.0">10</text><text x="46.1" y="326.4" font-size="10.5">1</text>
<text x="155.3" y="400.3" font-size="15.9" text-anchor="middle">0.1</text>
<text x="319.5" y="400.3" font-size="15.9" text-anchor="middle">1.0</text>
<text x="550.1" y="400.3" font-size="15.9" text-anchor="middle">0.1</text>
<text x="713.5" y="400.3" font-size="15.9" text-anchor="middle">1.0</text>
<text x="134" y="418.1" xml:space="preserve">comoving wavenumber   <tspan font-style="italic">k</tspan> / <tspan font-style="italic">h</tspan> Mpc<tspan font-size="10.5" dy="-6">-1</tspan></text>
<text x="527" y="418.1" xml:space="preserve">physical wavenumber  <tspan font-style="italic">a</tspan><tspan font-size="10.5" dy="-6">-1</tspan><tspan font-style="italic" dy="6">k</tspan> / <tspan font-style="italic">h</tspan> Mpc<tspan font-size="10.5" dy="-6">−1</tspan></text>
<text transform="translate(15.6 303.7) rotate(-90)" font-size="16.7" xml:space="preserve">cumulative information  <tspan font-style="italic" dx="1.9">I</tspan>(&lt;<tspan font-style="italic">k</tspan>)</text>
<text x="83.5" y="60.4">(a)</text><text x="478" y="60.4">(b)</text>
<path d="M349.00 309.18L350.16 312.03L353.67 312.10L350.87 313.92L351.89 316.81L349.00 315.09L346.11 316.81L347.13 313.92L344.33 312.10L347.84 312.03Z" fill="none" stroke="#ff1a1a" stroke-width="1.45" stroke-linejoin="round"/>
<circle cx="349.00" cy="330.60" r="3.20" fill="none" stroke="#7a1fb8" stroke-width="1.60"/>
<rect x="345.70" y="344.80" width="6.60" height="6.60" fill="none" stroke="#1a1aa8" stroke-width="1.60"/>
<g font-size="16.2"><text x="375.5" y="317.5">a=0.5</text><text x="375.5" y="334.9">a=0.67</text><text x="375.5" y="352.2">a=1</text></g>
<g font-size="16.2"><text x="760.5" y="337.6" text-anchor="end">linear</text><text x="760.5" y="354.0" text-anchor="end">PD96 scaling</text></g>
<path d="M772 333.1H816.6" fill="none" stroke="#000" stroke-width="1.0" stroke-dasharray="2.5 5.7" stroke-dashoffset="1.4"/>
<path d="M772 349.6H816.6" fill="none" stroke="#000" stroke-width="0.72"/>
<text transform="translate(652.2 93.2) rotate(-51.5)" font-size="13.0" text-anchor="middle" y="2.5">a=1</text>
<text transform="translate(686.4 86.8) rotate(-51.5)" font-size="13.0" text-anchor="middle" y="2.5">a=0.67</text>
<text transform="translate(705.0 89.4) rotate(-51.5)" font-size="13.0" text-anchor="middle" y="2.5">a=0.5</text>
</g>
</svg>
</body></html>
